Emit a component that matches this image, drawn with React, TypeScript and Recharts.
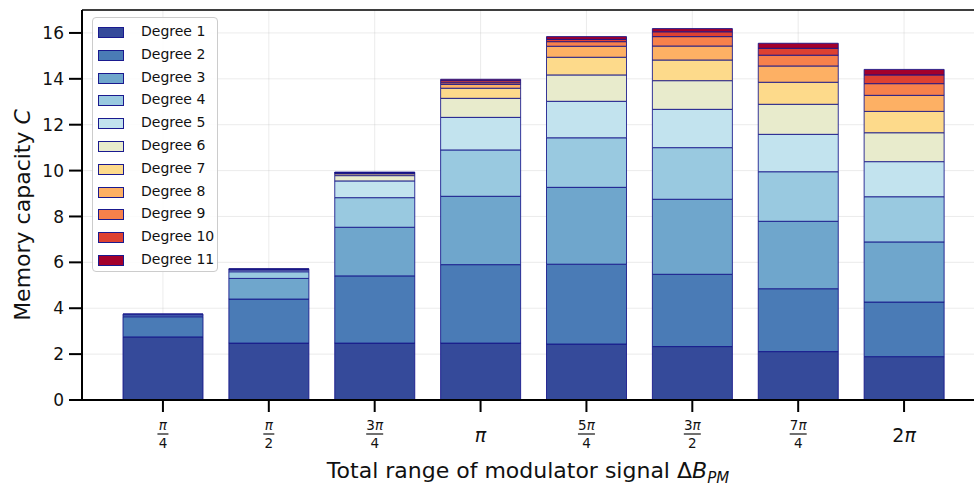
import React from 'react';
import { Bar, BarChart, CartesianGrid, ReferenceLine, XAxis, YAxis } from 'recharts';

const categories = ['π/4', 'π/2', '3π/4', 'π', '5π/4', '3π/2', '7π/4', '2π'];
const tickNumerators = ['π', 'π', '3π', 'π', '5π', '3π', '7π', '2π'];
const tickDenominators = ['4', '2', '4', '', '4', '2', '4', ''];

// contribution of each degree to the memory capacity, per modulator range
const degree1 = [2.75, 2.48, 2.48, 2.48, 2.44, 2.33, 2.11, 1.89];
const degree2 = [0.88, 1.92, 2.93, 3.42, 3.48, 3.15, 2.74, 2.38];
const degree3 = [0.08, 0.9, 2.12, 2.98, 3.35, 3.27, 2.94, 2.62];
const degree4 = [0.03, 0.29, 1.29, 2.02, 2.16, 2.25, 2.16, 1.97];
const degree5 = [0.01, 0.07, 0.73, 1.42, 1.59, 1.67, 1.63, 1.53];
const degree6 = [0, 0.03, 0.23, 0.83, 1.15, 1.25, 1.31, 1.26];
const degree7 = [0, 0.02, 0.08, 0.44, 0.77, 0.9, 0.96, 0.93];
const degree8 = [0, 0.01, 0.03, 0.17, 0.48, 0.61, 0.71, 0.7];
const degree9 = [0, 0, 0.02, 0.07, 0.2, 0.41, 0.47, 0.51];
const degree10 = [0, 0, 0.01, 0.09, 0.1, 0.21, 0.3, 0.38];
const degree11 = [0, 0, 0.01, 0.06, 0.12, 0.14, 0.22, 0.24];

const degreeSeries = [degree1, degree2, degree3, degree4, degree5, degree6, degree7, degree8, degree9, degree10, degree11];
const degreeNames = degreeSeries.map((_, k) => `Degree ${k + 1}`);
const degreeColors = [
  '#354a9a', '#4a7bb6', '#6fa6cc', '#99c9e0', '#c2e3ee', '#e8ebcc',
  '#fdda8b', '#fdb064', '#f7814b', '#de4131', '#a3002c',
];
const yTicks = [0, 2, 4, 6, 8, 10, 12, 14, 16];

const data = categories.map((name, i) => {
  const row: Record<string, number | string> = { name };
  degreeSeries.forEach((s, k) => {
    row[`d${k + 1}`] = s[i];
  });
  return row;
});

const FONT = '"DejaVu Sans", Verdana, sans-serif';

// split "3π" into coefficient + italic pi
function piParts(s: string, size: number) {
  const coef = s.replace('π', '');
  return (
    <>
      {coef}
      <tspan fontStyle="italic" fontSize={size}>π</tspan>
    </>
  );
}

function PiTick(props: any) {
  const { x, y, payload } = props;
  const i = payload.index;
  const num = tickNumerators[i];
  const den = tickDenominators[i];
  if (!den) {
    return (
      <text x={x} y={y + 28} textAnchor="middle" fontSize={19} fontFamily={FONT} fill="#111">
        {piParts(num, 19)}
      </text>
    );
  }
  const half = num.length > 1 ? 8.5 : 5.5;
  return (
    <g>
      <text x={x} y={y + 16} textAnchor="middle" fontSize={13.5} fontFamily={FONT} fill="#111">
        {piParts(num, 13.5)}
      </text>
      <line x1={x - half} x2={x + half} y1={y + 20} y2={y + 20} stroke="#111" strokeWidth={1.2} />
      <text x={x} y={y + 34} textAnchor="middle" fontSize={13.5} fontFamily={FONT} fill="#111">
        {den}
      </text>
    </g>
  );
}

function LegendBox() {
  return (
    <div
      style={{
        position: 'absolute',
        left: 92,
        top: 17,
        width: 124,
        height: 253,
        border: '1px solid #cccccc',
        borderRadius: 4,
        background: 'rgba(255,255,255,0.85)',
        fontFamily: FONT,
        fontSize: 14,
        color: '#111',
      }}
    >
      {degreeNames.map((name, k) => (
        <div key={name} style={{ position: 'absolute', left: 0, top: 2 + k * 22.8, height: 22, width: 124 }}>
          <div
            style={{
              position: 'absolute',
              left: 5,
              top: 7,
              width: 24,
              height: 9,
              background: degreeColors[k],
              border: '1px solid #1a1a8f',
            }}
          />
          <div style={{ position: 'absolute', left: 48, top: 2, whiteSpace: 'nowrap', lineHeight: '18px' }}>{name}</div>
        </div>
      ))}
    </div>
  );
}

export default function App() {
  return (
    <div style={{ position: 'absolute', left: 0, top: 0, width: 974, height: 487, overflow: 'hidden', background: '#fff' }}>
      <BarChart
        width={1000}
        height={487}
        data={data}
        margin={{ top: 10, right: 15, bottom: 57, left: 0 }}
        barSize={80}
      >
        {degreeSeries.map((_, k) => (
          <Bar
            key={k}
            dataKey={`d${k + 1}`}
            name={degreeNames[k]}
            stackId="mc"
            fill={degreeColors[k]}
            stroke="#14148a"
            strokeOpacity={0.85}
            strokeWidth={1}
            isAnimationActive={false}
          />
        ))}
        <CartesianGrid stroke="#bdbdbd" strokeOpacity={0.3} />
        <ReferenceLine y={17} stroke="#000" strokeWidth={1.5} />
        <XAxis
          dataKey="name"
          height={30}
          padding={{ left: 28, right: 28 }}
          axisLine={{ stroke: '#000', strokeWidth: 2 }}
          tickLine={{ stroke: '#000', strokeWidth: 2 }}
          tickSize={12}
          tick={<PiTick />}
          interval={0}
          label={{
            content: () => (
              <text x={528} y={478} textAnchor="middle" fontSize={22} fontFamily={FONT} fill="#111">
                Total range of modulator signal Δ<tspan fontStyle="italic">B</tspan>
                <tspan fontStyle="italic" fontSize={15} dy={5}>PM</tspan>
              </text>
            ),
          }}
        />
        <YAxis
          width={82}
          domain={[0, 17]}
          ticks={yTicks}
          allowDataOverflow
          axisLine={{ stroke: '#000', strokeWidth: 2 }}
          tickLine={{ stroke: '#000', strokeWidth: 2 }}
          tickSize={13}
          tickMargin={5}
          tick={{ fontSize: 17, fontFamily: FONT, fill: '#111' }}
          label={{
            content: () => (
              <text
                x={30}
                y={215}
                transform="rotate(-90 30 215)"
                textAnchor="middle"
                fontSize={22}
                fontFamily={FONT}
                fill="#111"
              >
                Memory capacity <tspan fontStyle="italic">C</tspan>
              </text>
            ),
          }}
        />
      </BarChart>
      <LegendBox />
    </div>
  );
}
